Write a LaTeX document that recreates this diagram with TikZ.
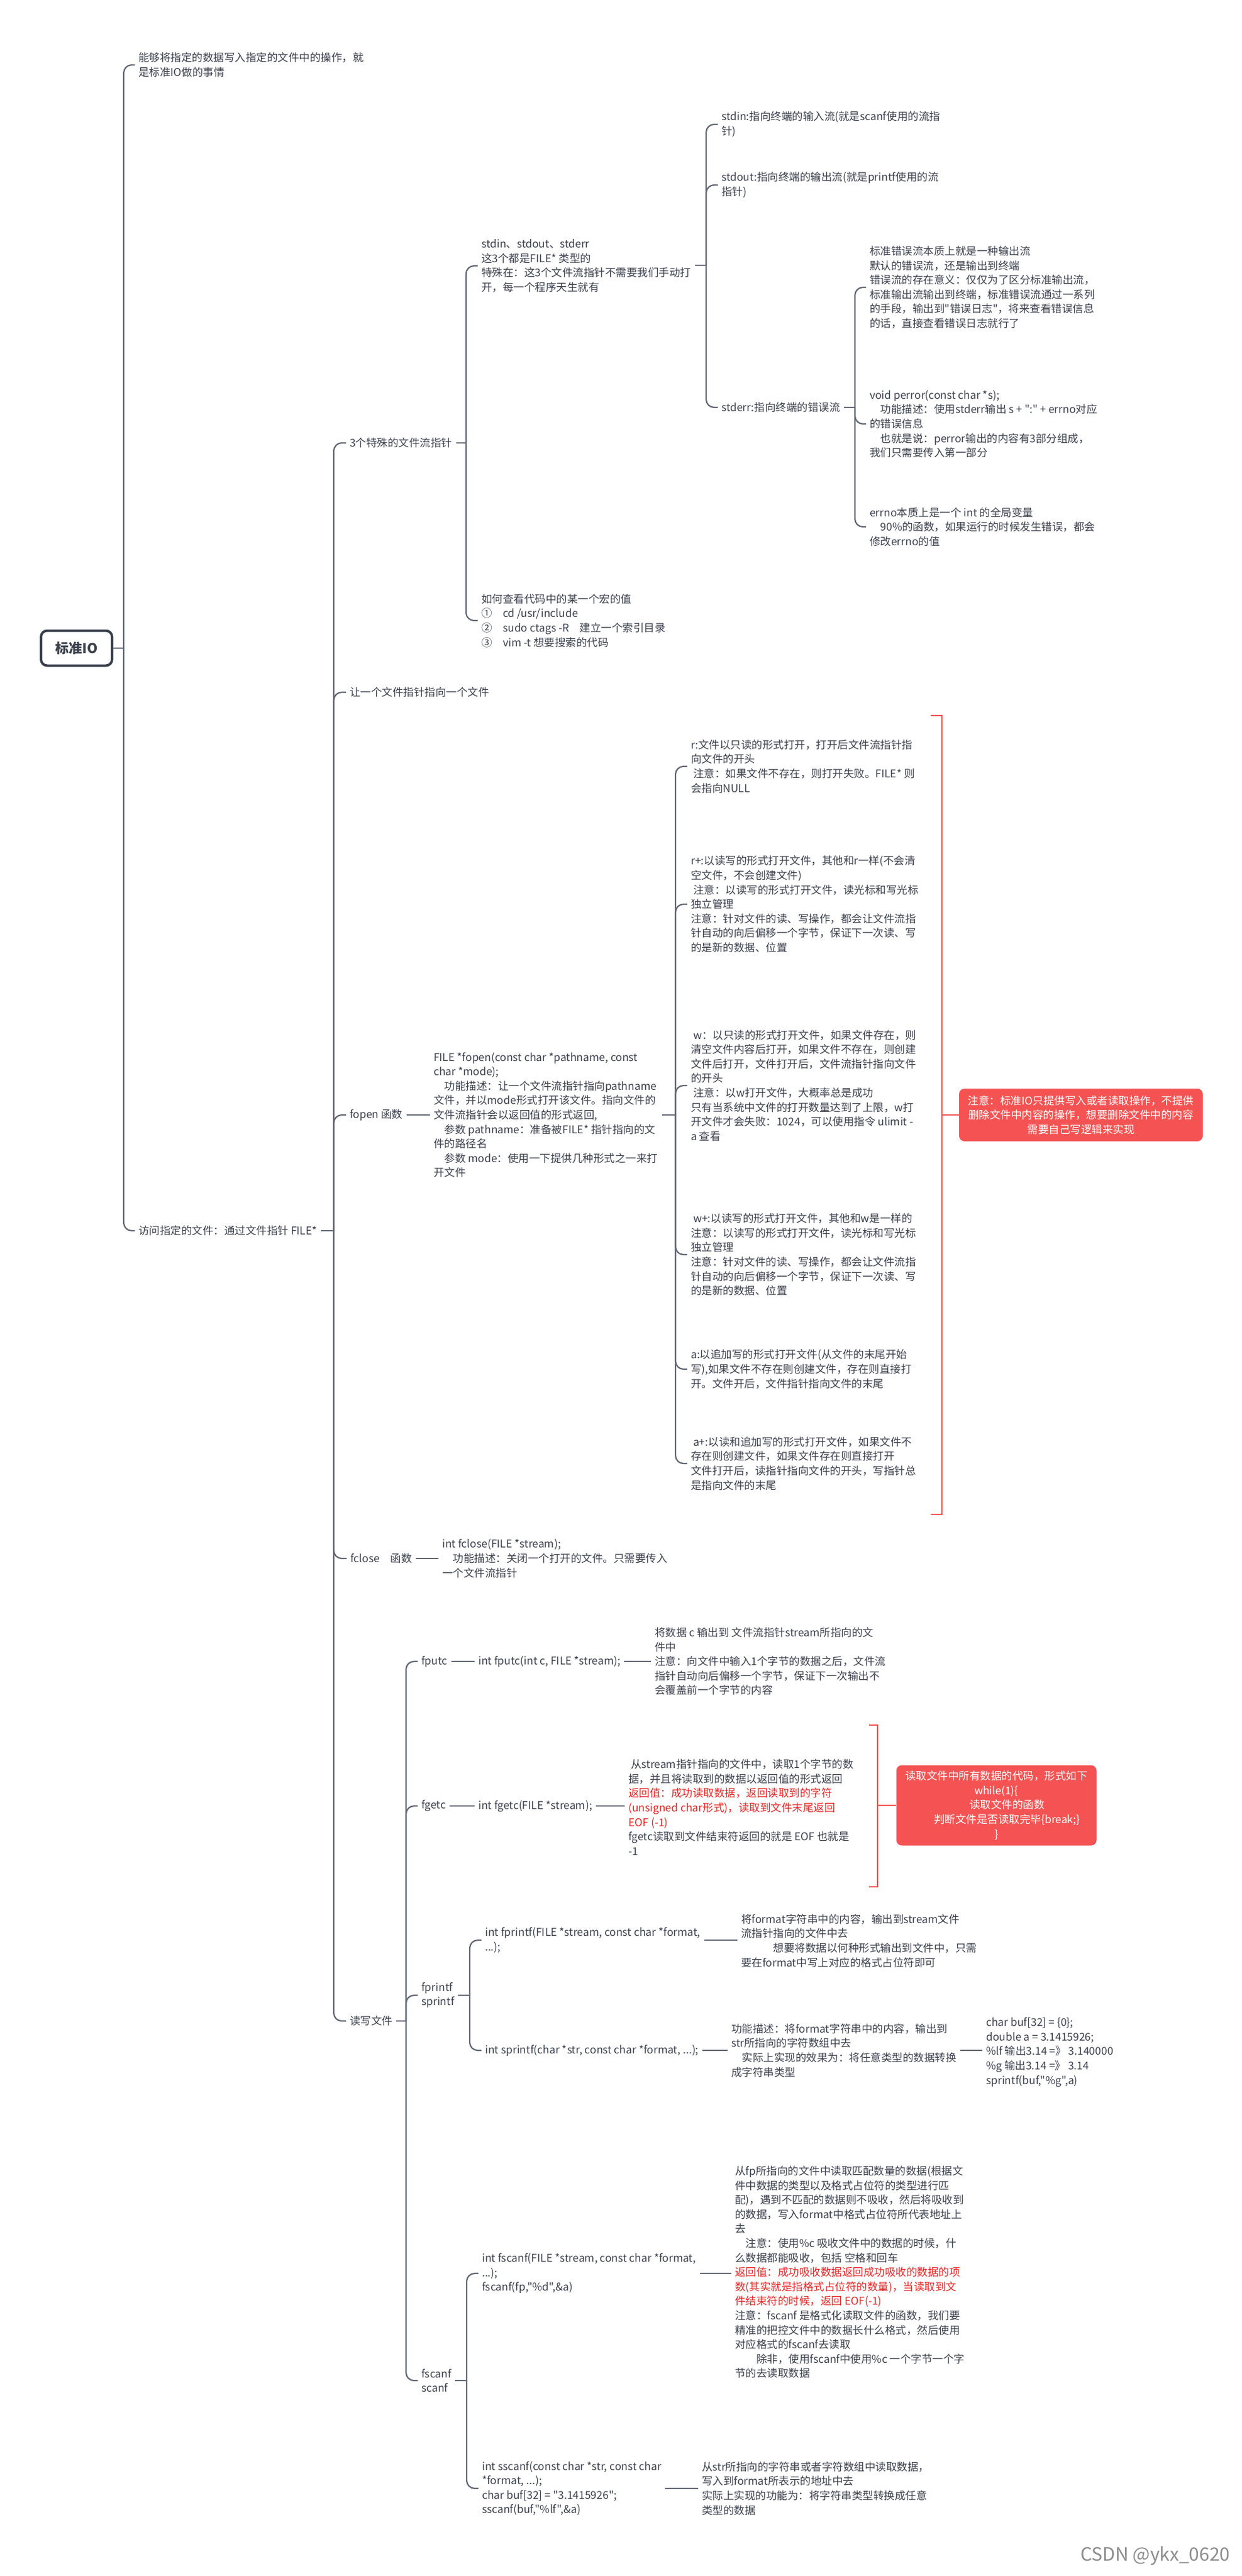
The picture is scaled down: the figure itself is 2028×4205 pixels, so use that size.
\documentclass[tikz,border=0pt]{standalone}
\usepackage{fontspec}
\setmainfont{Noto Sans CJK SC}[Ligatures=TeXOff]
\definecolor{inkgray}{RGB}{58,64,76}
\definecolor{linegray}{RGB}{96,102,114}
\definecolor{notered}{RGB}{245,83,83}
\definecolor{textred}{RGB}{232,36,36}
\begin{document}
\begin{tikzpicture}[x=1pt,y=-1pt,
  topic/.style={anchor=west,inner xsep=6pt,inner ysep=2pt,align=left,text=inkgray,font=\fontsize{17.5}{23.6}\selectfont},
  link/.style={draw=linegray,line width=2.2pt},
  branch/.style={link,rounded corners=13pt},
  summary/.style={draw=notered,line width=2.6pt},
  notebox/.style={fill=notered,rounded corners=9pt,text=white,align=center,inner sep=0pt,font=\fontsize{17.5}{23.6}\selectfont}]
\fill[white] (0,0) rectangle (2028,4205);
\useasboundingbox (0,0) rectangle (2028,4205);

\node[draw=inkgray,line width=4pt,rounded corners=10pt,minimum width=116pt,minimum height=57pt,text=inkgray,font=\fontsize{22}{26}\selectfont\bfseries] (root) at (125,1058) {标准IO};
\node[topic] (intro) at (220,106) {能够将指定的数据写入指定的文件中的操作，就\\是标准IO做的事情};
\node[topic] (access) at (220,2009) {访问指定的文件：通过文件指针 FILE*};
\coordinate (tRoot) at (202,1058);
\draw[link] (root.east) -- (tRoot);
\foreach \c in {intro,access} \draw[branch] (tRoot) |- (\c.west);

\node[topic] (three) at (565,723) {3个特殊的文件流指针};
\node[topic] (point) at (565,1130) {让一个文件指针指向一个文件};
\node[topic] (fopen) at (565,1820) {fopen 函数};
\node[topic] (fclose) at (566,2544) {fclose　函数};
\node[topic] (rw) at (565,3299) {读写文件};
\coordinate (tAccess) at (545,2009);
\draw[link] (access.east) -- (tAccess);
\foreach \c in {three,point,fopen,fclose,rw} \draw[branch] (tAccess) |- (\c.west);

\node[topic] (std) at (780,434) {stdin、stdout、stderr\\这3个都是FILE* 类型的\\特殊在：这3个文件流指针不需要我们手动打\\开，每一个程序天生就有};
\node[topic] (macro) at (780,1013) {如何查看代码中的某一个宏的值\\①　cd /usr/include\\②　sudo ctags -R　建立一个索引目录\\③　vim -t 想要搜索的代码};
\coordinate (tThree) at (761,723);
\draw[link] (three.east) -- (tThree);
\foreach \c in {std,macro} \draw[branch] (tThree) |- (\c.west);

\node[topic] (stdin) at (1172,203) {stdin:指向终端的输入流(就是scanf使用的流指\\针)};
\node[topic] (stdout) at (1172,302) {stdout:指向终端的输出流(就是printf使用的流\\指针)};
\node[topic] (stderr) at (1172,665) {stderr:指向终端的错误流};
\coordinate (tStd) at (1153,433);
\draw[link] (std.east |- tStd) -- (tStd);
\foreach \c in {stdin,stdout,stderr} \draw[branch] (tStd) |- (\c.west);

\node[topic] (errA) at (1414,469) {标准错误流本质上就是一种输出流\\默认的错误流，还是输出到终端\\错误流的存在意义：仅仅为了区分标准输出流，\\标准输出流输出到终端，标准错误流通过一系列\\的手段，输出到"错误日志"，将来查看错误信息\\的话，直接查看错误日志就行了};
\node[topic] (errB) at (1414,692) {void perror(const char *s);\\　功能描述：使用stderr输出 s + ":" + errno对应\\的错误信息\\　也就是说：perror输出的内容有3部分组成，\\我们只需要传入第一部分};
\node[topic] (errC) at (1414,860) {errno本质上是一个 int 的全局变量\\　90\%的函数，如果运行的时候发生错误，都会\\修改errno的值};
\coordinate (tErr) at (1396,665);
\draw[link] (stderr.east) -- (tErr);
\foreach \c in {errA,errB,errC} \draw[branch] (tErr) |- (\c.west);

\node[topic] (fopenDef) at (702,1820) {FILE *fopen(const char *pathname, const\\char *mode);\\　功能描述：让一个文件流指针指向pathname\\文件，并以mode形式打开该文件。指向文件的\\文件流指针会以返回值的形式返回,\\　参数 pathname：准备被FILE* 指针指向的文\\件的路径名\\　参数 mode：使用一下提供几种形式之一来打\\开文件};
\node[topic] (modeR) at (1122,1251) {r:文件以只读的形式打开，打开后文件流指针指\\向文件的开头\\\ 注意：如果文件不存在，则打开失败。FILE* 则\\会指向NULL};
\node[topic] (modeRp) at (1122,1476) {r+:以读写的形式打开文件，其他和r一样(不会清\\空文件，不会创建文件)\\\ 注意：以读写的形式打开文件，读光标和写光标\\独立管理\\注意：针对文件的读、写操作，都会让文件流指\\针自动的向后偏移一个字节，保证下一次读、写\\的是新的数据、位置};
\node[topic] (modeW) at (1122,1772) {\ w：以只读的形式打开文件，如果文件存在，则\\清空文件内容后打开，如果文件不存在，则创建\\文件后打开，文件打开后，文件流指针指向文件\\的开头\\\ 注意：以w打开文件，大概率总是成功\\只有当系统中文件的打开数量达到了上限，w打\\开文件才会失败：1024，可以使用指令 ulimit -\\a 查看};
\node[topic] (modeWp) at (1122,2048) {\ w+:以读写的形式打开文件，其他和w是一样的\\注意：以读写的形式打开文件，读光标和写光标\\独立管理\\注意：针对文件的读、写操作，都会让文件流指\\针自动的向后偏移一个字节，保证下一次读、写\\的是新的数据、位置};
\node[topic] (modeA) at (1122,2235) {a:以追加写的形式打开文件(从文件的末尾开始\\写),如果文件不存在则创建文件，存在则直接打\\开。文件开后，文件指针指向文件的末尾};
\node[topic] (modeAp) at (1122,2389) {\ a+:以读和追加写的形式打开文件，如果文件不\\存在则创建文件，如果文件存在则直接打开\\文件打开后，读指针指向文件的开头，写指针总\\是指向文件的末尾};
\coordinate (tFopen) at (1103,1820);
\draw[link] (fopenDef.east) -- (tFopen);
\foreach \c in {modeR,modeRp,modeW,modeWp,modeA,modeAp} \draw[branch] (tFopen) |- (\c.west);

\node[notebox,minimum width=398pt,minimum height=86pt] (noteA) at (1765,1820) {注意：标准IO只提供写入或者读取操作，不提供\\删除文件中内容的操作，想要删除文件中的内容\\需要自己写逻辑来实现};
\draw[summary] (1520,1168) -- (1538,1168) -- (1538,2472) -- (1520,2472);
\coordinate (sumA) at (1538,1820);
\draw[summary] (sumA) -- (noteA.west);

\node[topic] (fcloseDef) at (716,2544) {int fclose(FILE *stream);\\　功能描述：关闭一个打开的文件。只需要传入\\一个文件流指针};

\node[topic] (fputc) at (682,2712) {fputc};
\node[topic] (fgetc) at (682,2948) {fgetc};
\node[topic] (fprint) at (682,3257) {fprintf\\sprintf};
\node[topic] (fscan) at (682,3886) {fscanf\\scanf};
\coordinate (tRw) at (663,3299);
\draw[link] (rw.east) -- (tRw);
\foreach \c in {fputc,fgetc,fprint,fscan} \draw[branch] (tRw) |- (\c.west);

\node[topic] (fputcSig) at (775,2712) {int fputc(int c, FILE *stream);};
\node[topic] (fputcDef) at (1063,2712) {将数据 c 输出到 文件流指针stream所指向的文\\件中\\注意：向文件中输入1个字节的数据之后，文件流\\指针自动向后偏移一个字节，保证下一次输出不\\会覆盖前一个字节的内容};
\node[topic] (fgetcSig) at (775,2948) {int fgetc(FILE *stream);};
\node[topic] (fgetcDef) at (1020,2950) {\ 从stream指针指向的文件中，读取1个字节的数\\据，并且将读取到的数据以返回值的形式返回\\\textcolor{textred}{返回值：成功读取数据，返回读取到的字符}\\\textcolor{textred}{(unsigned char形式)，读取到文件末尾返回}\\\textcolor{textred}{EOF (-1)}\\fgetc读取到文件结束符返回的就是 EOF 也就是\\-1};
\node[notebox,minimum width=327pt,minimum height=131pt] (noteB) at (1627,2947) {读取文件中所有数据的代码，形式如下\\while(1)\{\\　　读取文件的函数\\　　判断文件是否读取完毕\{break;\}\\\}};
\draw[summary] (1419,2816) -- (1433,2816) -- (1433,3080) -- (1419,3080);
\coordinate (sumB) at (1433,2947);
\draw[summary] (sumB) -- (noteB.west);

\node[topic] (fprintfSig) at (786,3167) {int fprintf(FILE *stream, const char *format,\\...);};
\node[topic] (fprintfDef) at (1204,3168) {将format字符串中的内容，输出到stream文件\\流指针指向的文件中去\\　　　想要将数据以何种形式输出到文件中，只需\\要在format中写上对应的格式占位符即可};
\node[topic] (sprintfSig) at (786,3347) {int sprintf(char *str, const char *format, ...);};
\node[topic] (sprintfDef) at (1188,3347) {功能描述：将format字符串中的内容，输出到\\str所指向的字符数组中去\\　实际上实现的效果为：将任意类型的数据转换\\成字符串类型};
\node[topic] (bufEx) at (1604,3350) {char buf[32] = \{0\};\\double a = 3.1415926;\\\%lf 输出3.14 =》 3.140000\\\%g 输出3.14 =》 3.14\\sprintf(buf,"\%g",a)};
\coordinate (tPrint) at (767,3257);
\draw[link] (fprint.east) -- (tPrint);
\foreach \c in {fprintfSig,sprintfSig} \draw[branch] (tPrint) |- (\c.west);

\node[topic] (fscanfSig) at (781,3711) {int fscanf(FILE *stream, const char *format,\\...);\\fscanf(fp,"\%d",\&a)};
\node[topic] (fscanfDef) at (1194,3709) {从fp所指向的文件中读取匹配数量的数据(根据文\\件中数据的类型以及格式占位符的类型进行匹\\配)，遇到不匹配的数据则不吸收，然后将吸收到\\的数据，写入format中格式占位符所代表地址上\\去\\　注意：使用\%c 吸收文件中的数据的时候，什\\么数据都能吸收，包括 空格和回车\\\textcolor{textred}{返回值：成功吸收数据返回成功吸收的数据的项}\\\textcolor{textred}{数(其实就是指格式占位符的数量)，当读取到文}\\\textcolor{textred}{件结束符的时候，返回 EOF(-1)}\\注意：fscanf 是格式化读取文件的函数，我们要\\精准的把控文件中的数据长什么格式，然后使用\\对应格式的fscanf去读取\\　　除非，使用fscanf中使用\%c 一个字节一个字\\节的去读取数据};
\node[topic] (sscanfSig) at (781,4062) {int sscanf(const char *str, const char\\{}*format, ...);\\char buf[32] = "3.1415926";\\sscanf(buf,"\%lf",\&a)};
\node[topic] (sscanfDef) at (1140,4062) {从str所指向的字符串或者字符数组中读取数据，\\写入到format所表示的地址中去\\实际上实现的功能为：将字符串类型转换成任意\\类型的数据};
\coordinate (tScan) at (762,3886);
\draw[link] (fscan.east) -- (tScan);
\foreach \c in {fscanfSig,sscanfSig} \draw[branch] (tScan) |- (\c.west);

\foreach \a/\b in {fopen/fopenDef,fclose/fcloseDef,fputc/fputcSig,fputcSig/fputcDef,fgetc/fgetcSig,fgetcSig/fgetcDef,fprintfSig/fprintfDef,sprintfSig/sprintfDef,sprintfDef/bufEx,fscanfSig/fscanfDef,sscanfSig/sscanfDef}
  \draw[link] (\a.east) -- (\a.east -| \b.west);

\node[anchor=east,text=black!45,font=\fontsize{30}{34}\selectfont] (mark) at (2012,4172) {CSDN @ykx\_0620};
\end{tikzpicture}
\end{document}
